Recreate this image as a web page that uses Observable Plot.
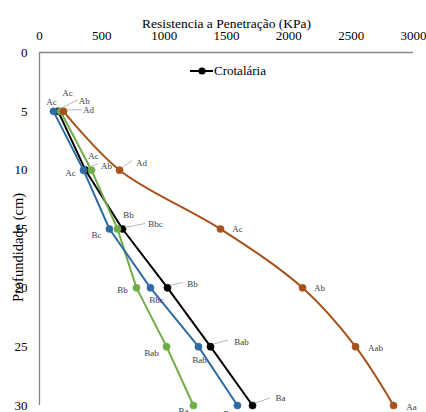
<!DOCTYPE html>
<html>
<head>
<meta charset="utf-8">
<script src="https://cdn.jsdelivr.net/npm/d3@7"></script>
<script src="https://cdn.jsdelivr.net/npm/@observablehq/plot@0.6"></script>
<style>
  body { margin: 0; background: white; }
  #wrap { position: relative; width: 426px; height: 412px; overflow: hidden; }
  #legend { position: absolute; left: 189px; top: 63px; display: flex; align-items: center;
            font-family: "Liberation Serif", "Times New Roman", serif; font-size: 13px; color: #000; }
</style>
</head>
<body>
<div id="wrap"></div>
<script>
// ---- data ----
const depths = [5, 10, 15, 20, 25, 30];
const xTicks = [0, 500, 1000, 1500, 2000, 2500, 3000];
const yTicks = [0, 5, 10, 15, 20, 25, 30];

const crotalaria = [150, 369, 666, 1027, 1372, 1709];
const serieAzul = [112, 353, 561, 890, 1275, 1588];
const serieVerde = [168, 417, 626, 778, 1019, 1235];
const serieMarrom = [193, 642, 1452, 2110, 2535, 2840];

const labelsCrotalaria = ["Ab", "Ab", "Bbc", "Bb", "Bab", "Ba"];
const labelsAzul = ["Ac", "Ac", "Bc", "Bbc", "Bab", "Ba"];
const labelsVerde = ["Ac", "Ac", "Bb", "Bb", "Bab", "Ba"];
const labelsMarrom = ["Ad", "Ad", "Ac", "Ab", "Aab", "Aa"];

const xTitle = "Resistencia a Penetração (KPa)";
const yTitle = "Profundidade (cm)";
const legendName = "Crotalária";

// ---- layout / style (not data) ----
const series = [
  {name: "Crotalária", values: crotalaria, labels: labelsCrotalaria, color: "#000000", curve: "linear",
   off: [[26,-10],[21,-4],[33,-5],[25,-4],[31,-5],[28,-7]],
   leaders: [[0,4,-3,20,-11],[1,3,-2,13,-6],[2,3,-1,23,-5],[3,3,-2,16,-5],[4,3,-2,18,-6],[5,3,-2,18,-7]]},
  {name: "Verde", values: serieVerde, labels: labelsVerde, color: "#70ad47", curve: "linear",
   off: [[7,-18],[2,-14],[11,-14],[-14,2],[-15,6],[-10,6]], leaders: []},
  {name: "Azul", values: serieAzul, labels: labelsAzul, color: "#2e6ba3", curve: "linear",
   off: [[-2,-9],[-13,3],[-13,6],[6,12],[1,13],[-9,9]], leaders: []},
  {name: "Marrom", values: serieMarrom, labels: labelsMarrom, color: "#a6521a", curve: "catmull-rom",
   off: [[25,-1],[22,-7],[17,0],[17,0],[20,1],[18,2]],
   leaders: [[0,3,-1,19,-1],[1,3,-2,13,-9]]}
];

const font = "'Liberation Serif', 'Times New Roman', serif";
const marks = [];
marks.push(Plot.ruleY([0], {stroke: "#868686", strokeWidth: 1.3}));
marks.push(Plot.ruleX([0], {stroke: "#868686", strokeWidth: 1.3}));

for (const s of series) {
  const rows = depths.map((d, i) => ({x: s.values[i], y: d, t: s.labels[i]}));
  marks.push(Plot.line(rows, {x: "x", y: "y", stroke: s.color, strokeWidth: 2, curve: s.curve}));
  marks.push(Plot.dot(rows, {x: "x", y: "y", r: 3.6, fill: s.color, stroke: s.color, strokeWidth: 0.5}));
}
for (const s of series) {
  depths.forEach((d, i) => {
    marks.push(Plot.text([{x: s.values[i], y: d, t: s.labels[i]}], {
      x: "x", y: "y", text: "t", dx: s.off[i][0], dy: s.off[i][1],
      fontSize: 9, fill: "#404040", textAnchor: "middle"
    }));
  });
}
marks.push(Plot.text([xTitle], {text: d => d, frameAnchor: "top", lineAnchor: "middle", dy: -29, fontSize: 13.5, fill: "#000"}));

const chart = Plot.plot({
  width: 426, height: 412,
  marginLeft: 39, marginRight: 13, marginTop: 52, marginBottom: 7,
  style: {fontFamily: font, fontSize: "13px", background: "white", color: "#000", overflow: "visible"},
  x: {domain: [0, 3000], ticks: xTicks, axis: "top", tickSize: 0, tickPadding: 13, label: null, tickFormat: d3.format("d")},
  y: {domain: [0, 30], reverse: true, ticks: yTicks, tickSize: 0, tickPadding: 12, label: null, tickFormat: d3.format("d")},
  marks
});

document.getElementById("wrap").appendChild(chart);

// leader lines and y title placed through the plot's own scales
const sx = chart.scale("x"), sy = chart.scale("y");
const fx = sx.apply ? (v => sx.apply(v)) : d3.scaleLinear(sx.domain, sx.range);
const fy = sy.apply ? (v => sy.apply(v)) : d3.scaleLinear(sy.domain, sy.range);
const g = d3.select(chart).append("g").attr("stroke", "#a6a6a6").attr("stroke-width", 0.8);
for (const s of series) {
  for (const [i, x1, y1, x2, y2] of s.leaders) {
    const px = fx(s.values[i]), py = fy(depths[i]);
    g.append("line").attr("x1", px + x1).attr("y1", py + y1).attr("x2", px + x2).attr("y2", py + y2);
  }
}
const yr = sy.range;
const yMid = (yr[0] + yr[1]) / 2;
d3.select(chart).append("text")
  .attr("transform", `translate(${fx(0) - 21},${yMid + 19}) rotate(-90)`)
  .attr("text-anchor", "middle")
  .attr("dy", "0.32em")
  .attr("fill", "#000")
  .style("font-family", font)
  .style("font-size", "14.5px")
  .text(yTitle);

// legend
const leg = document.createElement("div");
leg.id = "legend";
leg.innerHTML = `<svg width="25" height="16" style="display:block"><line x1="1" y1="8" x2="24" y2="8" stroke="#000" stroke-width="2"/><circle cx="13" cy="8" r="3.6" fill="#000"/></svg><span>${legendName}</span>`;
document.getElementById("wrap").appendChild(leg);
</script>
</body>
</html>
